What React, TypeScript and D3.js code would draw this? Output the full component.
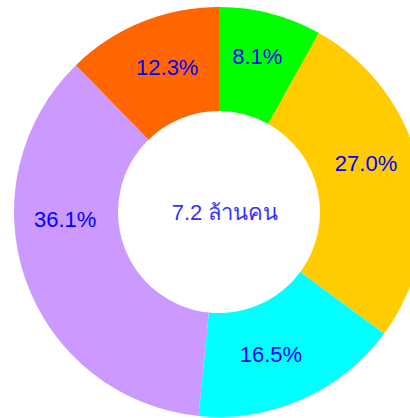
import React from "react";
import * as d3 from "d3";

const categories = ["A", "B", "C", "D", "E"];
const shares = [8.1, 27.0, 16.5, 36.1, 12.3];
const percentLabels = ["8.1%", "27.0%", "16.5%", "36.1%", "12.3%"];
const centerLabel = "7.2 ล้านคน";

// layout / style
const W = 410;
const H = 418;
const CX = 219;
const CY = 212;
const R_OUT = 205;
const R_IN = 101;
const COLORS = ["#00ff00", "#ffcc00", "#00ffff", "#cc99ff", "#ff6600"];
// label placement tweaks (degrees along the ring, radius)
const LABEL_ANGLE_NUDGE = [-0.8, -6.2, 3.8, 16.5, 2.5];
const LABEL_RADIUS = [161, 155, 151, 154, 154];

export default function App() {
  const pie = d3
    .pie<number>()
    .sort(null)
    .value((d) => d)
    .startAngle(0)
    .endAngle(2 * Math.PI);
  const arcs = pie(shares);
  const arc = d3.arc<d3.PieArcDatum<number>>().innerRadius(R_IN).outerRadius(R_OUT);

  return (
    <svg
      width={W}
      height={H}
      style={{ position: "absolute", left: 0, top: 0 }}
      fontFamily="'Liberation Sans', Arial, sans-serif"
    >
      <g transform={`translate(${CX},${CY})`}>
        {arcs.map((a, i) => (
          <path key={categories[i]} d={arc(a) || ""} fill={COLORS[i]} />
        ))}
        {arcs.map((a, i) => {
          const mid = (a.startAngle + a.endAngle) / 2 + (LABEL_ANGLE_NUDGE[i] * Math.PI) / 180;
          const r = LABEL_RADIUS[i];
          const x = r * Math.sin(mid);
          const y = -r * Math.cos(mid);
          return (
            <text
              key={"l" + i}
              x={x}
              y={y}
              dy="0.36em"
              textAnchor="middle"
              fontSize={22}
              fill="#0000ff"
            >
              {percentLabels[i]}
            </text>
          );
        })}
        <text x={6} y={0} dy="0.36em" textAnchor="middle" fontSize={22} fill="#3333ff">
          {centerLabel}
        </text>
      </g>
    </svg>
  );
}
